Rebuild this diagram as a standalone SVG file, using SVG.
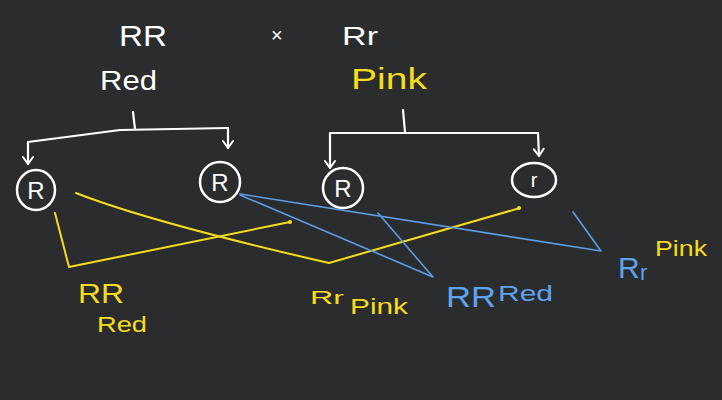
<svg xmlns="http://www.w3.org/2000/svg" width="722" height="400" viewBox="0 0 722 400">
<defs>
<marker id="ah" viewBox="0 0 12 12" refX="10" refY="6" markerWidth="12" markerHeight="12" markerUnits="userSpaceOnUse" orient="auto">
<path d="M3,1 L10,6 L3,11" fill="none" stroke="#ffffff" stroke-width="2" stroke-linecap="round" stroke-linejoin="round"/>
</marker>
</defs>
<style>
.w{fill:#ffffff}
.y{fill:#f6dc1f}
.b{fill:#5fa3ee}
text{font-family:"Liberation Sans","DejaVu Sans",sans-serif}
.br{fill:none;stroke:#ffffff;stroke-width:2.2;stroke-linecap:round;stroke-linejoin:round}
.c{fill:none;stroke:#ffffff;stroke-width:2.5}
.yl{fill:none;stroke:#f6dc1f;stroke-width:2;stroke-linecap:round;stroke-linejoin:round}
.bl{fill:none;stroke:#5c9de6;stroke-width:1.6;stroke-linecap:round;stroke-linejoin:round}
</style>
<rect width="722" height="400" fill="#2b2c2e"/>
<g id="parents">
<text x="119" y="46" class="w" font-size="29" textLength="48" lengthAdjust="spacingAndGlyphs">RR</text>
<text x="271" y="42" class="w" font-size="20">×</text>
<text x="342" y="45" class="w" font-size="25" textLength="36" lengthAdjust="spacingAndGlyphs">Rr</text>
<text x="100" y="90" class="w" font-size="27" textLength="57" lengthAdjust="spacingAndGlyphs">Red</text>
<text x="351" y="89" class="y" font-size="29" textLength="76" lengthAdjust="spacingAndGlyphs">Pink</text>
</g>
<g id="connectors">
<path class="br" d="M133,112 L135,129"/>
<path class="br" d="M228,128 L120,130 L28,142 L28,164" marker-end="url(#ah)"/>
<path class="br" d="M228,128 L228,148" marker-end="url(#ah)"/>
<path class="br" d="M403,110 L405,132"/>
<path class="br" d="M538,133 L330,133 L330,168" marker-end="url(#ah)"/>
<path class="br" d="M538,133 L539,156" marker-end="url(#ah)"/>
<path class="yl" d="M55,213 L69,267 L290,222"/>
<circle cx="290" cy="222" r="2" fill="#f6dc1f"/>
<path class="yl" d="M76,193 Q150,222 329,263 L520,208"/>
<circle cx="519" cy="208" r="2" fill="#f6dc1f"/>
<path class="bl" d="M240,194 L601,251 L573,212"/>
<path class="bl" d="M240,195 L433,277 L378,213"/>
</g>
<g id="gamete1"><ellipse cx="36" cy="190" rx="19" ry="20" class="c"/><text x="36" y="199" text-anchor="middle" class="w" font-size="24">R</text></g>
<g id="gamete2"><ellipse cx="220" cy="182" rx="20" ry="20" class="c"/><text x="220" y="191" text-anchor="middle" class="w" font-size="24">R</text></g>
<g id="gamete3"><ellipse cx="343" cy="188" rx="20" ry="20" class="c"/><text x="343" y="197" text-anchor="middle" class="w" font-size="24">R</text></g>
<g id="gamete4"><ellipse cx="534" cy="180" rx="22" ry="17" class="c"/><text x="534" y="187" text-anchor="middle" class="w" font-size="20">r</text></g>
<g id="offspring1"><text x="78" y="303" class="y" font-size="27" textLength="46" lengthAdjust="spacingAndGlyphs">RR</text><text x="97" y="332" class="y" font-size="22" textLength="50" lengthAdjust="spacingAndGlyphs">Red</text></g>
<g id="offspring2"><text x="310" y="304" class="y" font-size="19" textLength="34" lengthAdjust="spacingAndGlyphs">Rr</text><text x="350" y="314" class="y" font-size="22" textLength="58" lengthAdjust="spacingAndGlyphs">Pink</text></g>
<g id="offspring3"><text x="446" y="307" class="b" font-size="29" textLength="50" lengthAdjust="spacingAndGlyphs">RR</text><text x="498" y="301" class="b" font-size="22" textLength="55" lengthAdjust="spacingAndGlyphs">Red</text></g>
<g id="offspring4"><text x="618" y="278" class="b" font-size="30">R</text><text x="640" y="280" class="b" font-size="22">r</text><text x="655" y="256" class="y" font-size="22" textLength="52" lengthAdjust="spacingAndGlyphs">Pink</text></g>
</svg>
